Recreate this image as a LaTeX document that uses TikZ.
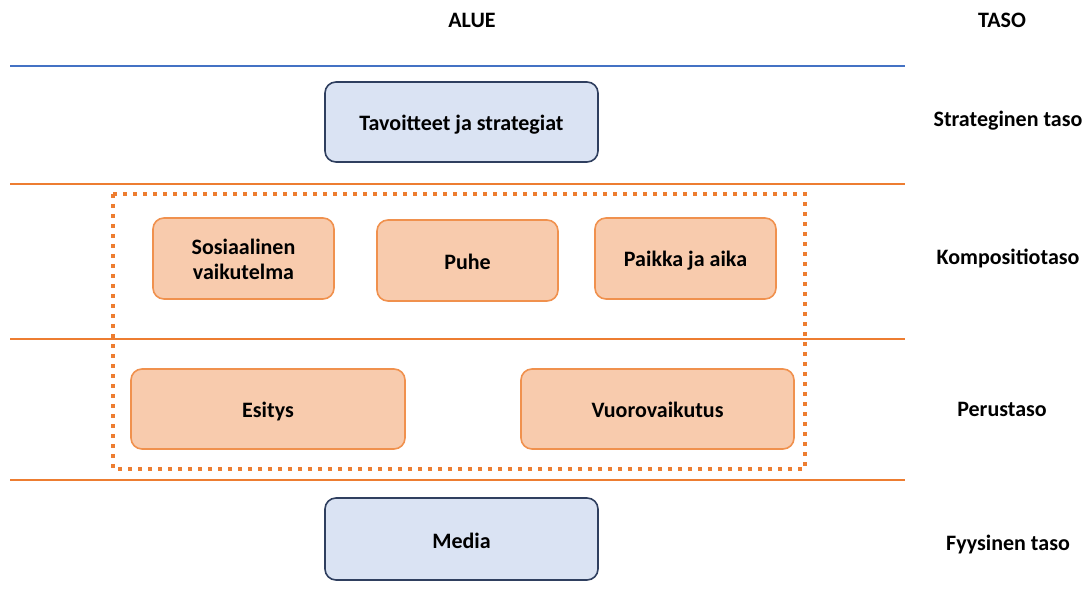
\documentclass[tikz,border=0pt]{standalone}
\usepackage{fontspec}
\setmainfont{Carlito}
\definecolor{bfill}{HTML}{DAE3F3}
\definecolor{bdraw}{HTML}{2F3F5F}
\definecolor{ofill}{HTML}{F8CBAD}
\definecolor{odraw}{HTML}{F0914E}
\definecolor{oline}{HTML}{ED7D31}
\definecolor{bline}{HTML}{4472C4}
\begin{document}
\begin{tikzpicture}[x=1pt,y=-1pt,
  every node/.style={font=\fontsize{22}{25}\selectfont\bfseries,text height=15pt,text depth=5pt},
  bluebox/.style={draw=bdraw,fill=bfill,line width=1.6pt,rounded corners=11pt},
  orbox/.style={draw=odraw,fill=ofill,line width=1.6pt,rounded corners=11pt},
  sep/.style={line width=1.3pt}]
\useasboundingbox (0,0) rectangle (1086,601);
% lines
\draw[sep,bline] (10,66) coordinate (l0a) -- (905,66) coordinate (l0b);
\draw[sep,oline] (10,184) coordinate (l1a) -- (905,184) coordinate (l1b);
\draw[sep,oline] (10,339) coordinate (l2a) -- (905,339) coordinate (l2b);
\draw[sep,oline] (10,480) coordinate (l3a) -- (905,480) coordinate (l3b);
% dotted
\draw[oline,line width=4pt,dash pattern=on 4pt off 6pt] (113,194) rectangle (805,469);
% boxes
\draw[bluebox] (325,82) rectangle (598,162);
\node (tav) at (461.5,126) {Tavoitteet ja strategiat};
\draw[bluebox] (325,498) rectangle (598,580);
\node (med) at (461.5,543) {Media};
\draw[orbox] (153,218) rectangle (334,299);
\node[align=center,text height={},text depth={}] (sos) at (243.5,259.5) {Sosiaalinen\\vaikutelma};
\draw[orbox] (377,220) rectangle (558,301);
\node (puh) at (467.5,265) {Puhe};
\draw[orbox] (595,218) rectangle (776,299);
\node (pai) at (685.5,262) {Paikka ja aika};
\draw[orbox] (131,369) rectangle (405,449);
\node (esi) at (268,412) {Esitys};
\draw[orbox] (521,369) rectangle (794,449);
\node (vuo) at (657.5,412) {Vuorovaikutus};
% labels
\node (alue) at (472,23) {ALUE};
\node (taso) at (1002,23) {TASO};
\node (str) at (1008,122) {Strateginen taso};
\node (kom) at (1008,260) {Kompositiotaso};
\node (per) at (1002,411) {Perustaso};
\node (fyy) at (1008,545) {Fyysinen taso};
\end{tikzpicture}
\end{document}
